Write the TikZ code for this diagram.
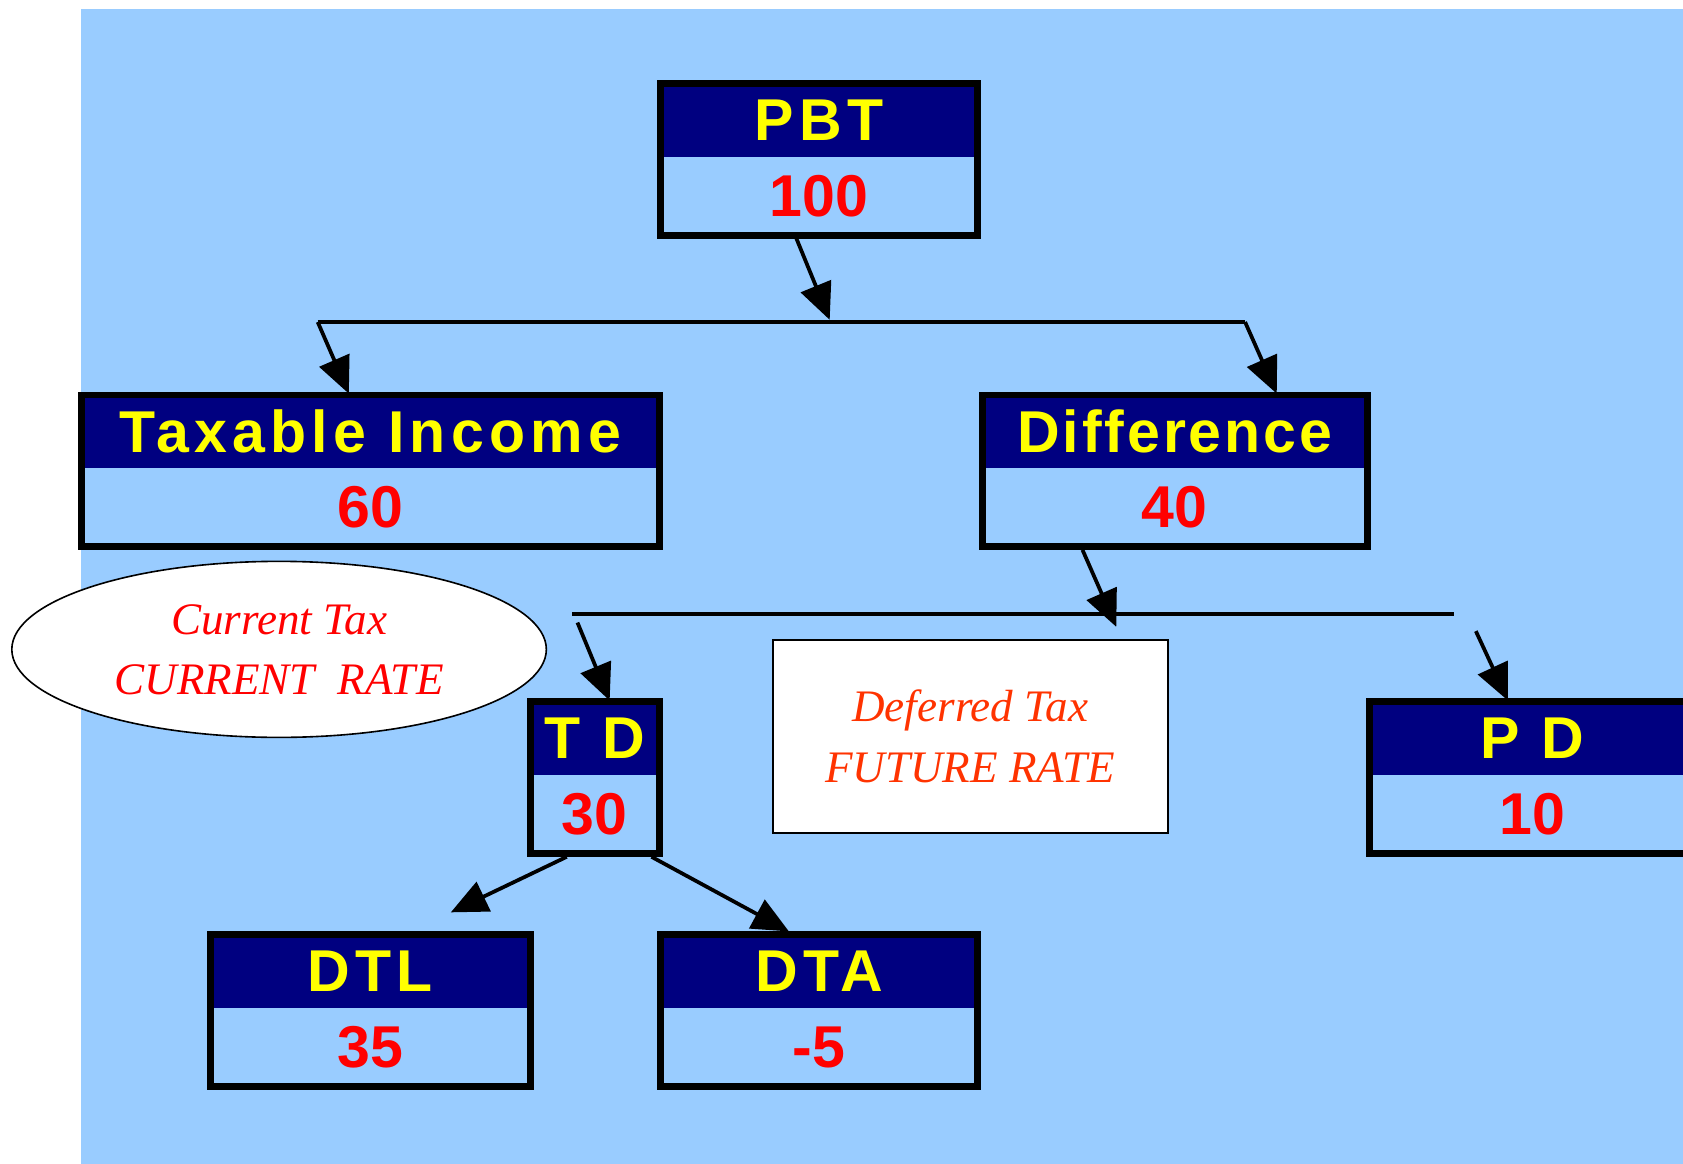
\documentclass[tikz,border=0pt]{standalone}
\usepackage{fontspec}
\newfontfamily\boxfont[LetterSpace=9]{Liberation Sans}
\newfontfamily\tightfont[LetterSpace=5]{Liberation Sans}
\newfontfamily\numfont{Liberation Sans}
\newfontfamily\notefont{Liberation Serif}
\usepackage{tikz}
\usetikzlibrary{arrows.meta,calc,positioning,shapes.geometric,fit}
\definecolor{BgColor}     {RGB}{153,204,255}
\definecolor{HeadColor}   {RGB}{0,0,128}
\definecolor{TitleColor}  {RGB}{255,255,0}
\definecolor{NumColor}    {RGB}{255,0,0}
\definecolor{NoteColor}   {RGB}{255,0,0}
\definecolor{DefNoteColor}{RGB}{255,51,0}

\begin{document}
\begin{tikzpicture}[x=1pt,y=-1pt,
  head/.style={anchor=north,fill=HeadColor,text=TitleColor,minimum height=68pt,
               inner sep=0pt,outer sep=0pt,font=\boxfont\bfseries\fontsize{55}{60}\selectfont},
  body/.style={anchor=north,fill=BgColor,text=NumColor,minimum height=73pt,
               inner sep=0pt,outer sep=0pt,font=\numfont\bfseries\fontsize{55}{60}\selectfont},
  frame/.style={draw,line width=6.5pt,inner sep=0pt},
  note/.style={draw,line width=1.5pt,fill=white,align=center,
               font=\notefont\itshape\fontsize{42}{56}\selectfont},
  bar/.style={line width=3pt},
  arr/.style={line width=3.5pt,-{Triangle[length=34pt,width=30pt]}}]
\useasboundingbox (0,0) rectangle (1568,1084);
\fill[white] (0,0) rectangle (1568,1084);
\fill[BgColor] (75,8) rectangle (1568,1084);
% boxes: name/x/top/width/title/value
\foreach \n/\x/\y/\w/\t/\v in {pbt/763/78/296/PBT/100,
    ti/345/368/538/Taxable Income/60, diff/1094.5/368/359/{\tightfont Difference}/40,
    td/554/654/120/T D/30, pd/1428/654/304/P D/10,
    dtl/345/871/298/DTL/35, dta/763/871/296/DTA/-5}
{
  \node[head,minimum width=\w pt] (\n-h) at (\x,\y) {\t};
  \node[body,minimum width=\w pt] (\n-b) at (\n-h.south) {\v};
  \node[frame,fit=(\n-h)(\n-b)] (\n) {};
}
\node[note,ellipse,text=NoteColor,minimum width=498pt,minimum height=164pt] (cur) at (260,605)
  {Current Tax\\CURRENT\ \ RATE};
\node[note,rectangle,text=DefNoteColor,minimum width=368pt,minimum height=180pt] (def) at (904,686)
  {Deferred Tax\\FUTURE RATE};
% bars and arrows
\coordinate (j1) at (773,298);
\coordinate (l1) at (296,300);
\coordinate (r1) at (1160,300);
\coordinate (j2) at (1040,584);
\coordinate (l2) at (533,572);
\coordinate (r2) at (1355,572);
\coordinate (t2) at (538,580);
\coordinate (p2) at (1375,588);
\coordinate (d1) at (420,850);
\draw[bar] (l1) -- (r1);
\draw[bar] (l2) -- (r2);
\draw[arr] ($(pbt.south)+(-21,0)$) -- (j1);
\draw[arr] (l1) -- ($(ti.north)+(-20,2)$);
\draw[arr] (r1) -- ($(diff.north)+(95,2)$);
\draw[arr] ($(diff.south)+(-86,0)$) -- (j2);
\draw[arr] (t2) -- ($(td.north)+(14,2)$);
\draw[arr] (p2) -- ($(pd.north)+(-23,2)$);
\draw[arr] ($(td.south)+(-26,0)$) -- (d1);
\draw[arr] ($(td.south)+(53,0)$) -- ($(dta.north)+(-28,0)$);
\end{tikzpicture}
\end{document}
